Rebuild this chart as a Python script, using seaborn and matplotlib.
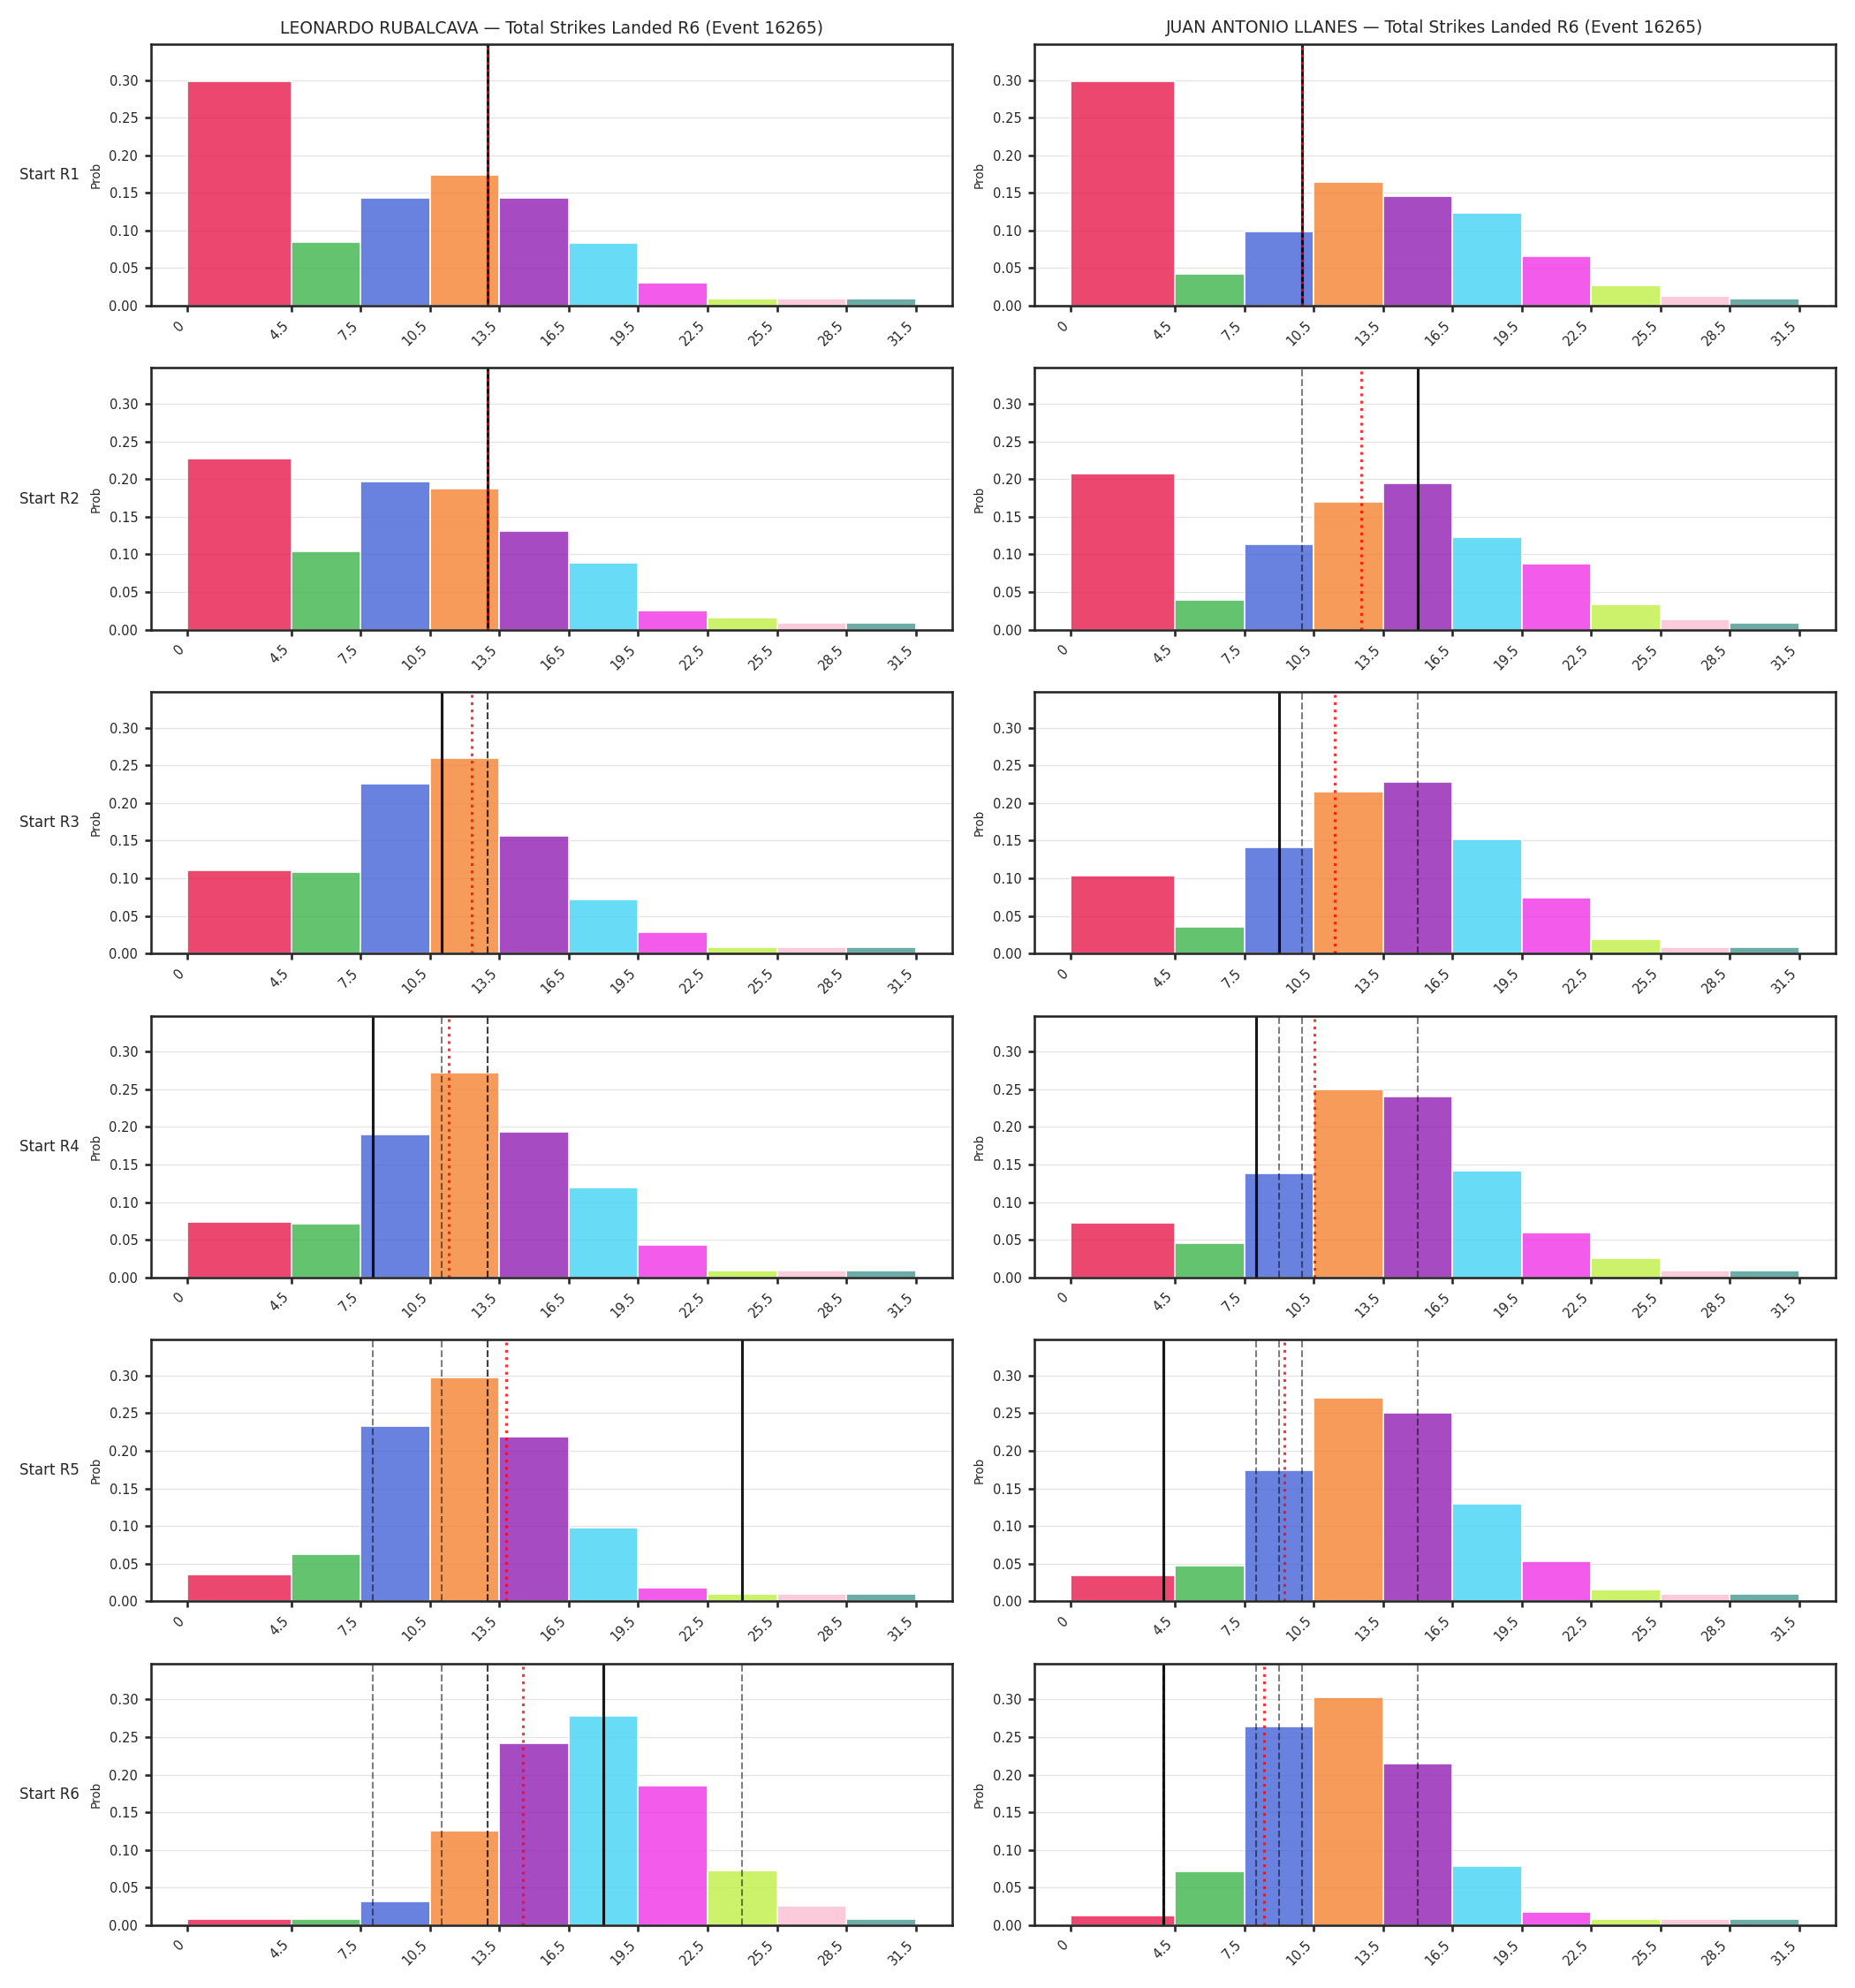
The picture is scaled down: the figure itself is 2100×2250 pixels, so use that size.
import numpy as np
import matplotlib
matplotlib.use("Agg")
import matplotlib.pyplot as plt
from matplotlib.colors import to_rgba
import seaborn as sns

# ---------------- data ----------------
fighters = ["LEONARDO RUBALCAVA", "JUAN ANTONIO LLANES"]
title_suffix = "Total Strikes Landed R6 (Event 16265)"
row_labels = ["Start R1", "Start R2", "Start R3", "Start R4", "Start R5", "Start R6"]

bin_edges = [0, 4.5, 7.5, 10.5, 13.5, 16.5, 19.5, 22.5, 25.5, 28.5, 31.5]
tick_labels = ["0", "4.5", "7.5", "10.5", "13.5", "16.5", "19.5", "22.5", "25.5", "28.5", "31.5"]
bar_colors = ["#e6194B", "#3cb44b", "#4363d8", "#f58231", "#911eb4",
              "#42d4f4", "#f032e6", "#bfef45", "#fabed4", "#469990"]

rubalcava_probs = [
    [0.299, 0.085, 0.143, 0.174, 0.144, 0.084, 0.030, 0.009, 0.009, 0.009],
    [0.227, 0.104, 0.197, 0.187, 0.131, 0.089, 0.025, 0.016, 0.009, 0.009],
    [0.110, 0.108, 0.226, 0.260, 0.156, 0.072, 0.028, 0.008, 0.008, 0.008],
    [0.074, 0.071, 0.190, 0.272, 0.193, 0.119, 0.043, 0.009, 0.009, 0.009],
    [0.036, 0.062, 0.233, 0.297, 0.219, 0.098, 0.018, 0.009, 0.009, 0.009],
    [0.008, 0.008, 0.031, 0.125, 0.242, 0.278, 0.185, 0.072, 0.026, 0.008],
]
llanes_probs = [
    [0.298, 0.042, 0.099, 0.164, 0.146, 0.124, 0.066, 0.027, 0.013, 0.009],
    [0.208, 0.039, 0.114, 0.170, 0.194, 0.123, 0.088, 0.034, 0.013, 0.009],
    [0.104, 0.035, 0.141, 0.215, 0.228, 0.152, 0.074, 0.019, 0.008, 0.008],
    [0.073, 0.045, 0.138, 0.250, 0.240, 0.142, 0.059, 0.025, 0.009, 0.009],
    [0.034, 0.047, 0.174, 0.271, 0.251, 0.129, 0.053, 0.015, 0.009, 0.009],
    [0.012, 0.071, 0.264, 0.303, 0.215, 0.078, 0.017, 0.008, 0.008, 0.008],
]

rubalcava_actual = [13, 13, 11, 8, 24, 18]
rubalcava_mean = [13.0, 13.0, 12.3, 11.3, 13.8, 14.5]
llanes_actual = [10, 15, 9, 8, 4, 4]
llanes_mean = [10.0, 12.55, 11.4, 10.55, 9.25, 8.35]

all_probs = [rubalcava_probs, llanes_probs]
all_actual = [rubalcava_actual, llanes_actual]
all_mean = [rubalcava_mean, llanes_mean]

# ---------------- style ----------------
sns.set_style("ticks")
plt.rcParams["font.family"] = ["DejaVu Sans"]

fig, axes = plt.subplots(6, 2, figsize=(14, 15), dpi=150)
fig.subplots_adjust(left=0.0814, right=0.9895, top=0.9778, bottom=0.0317,
                    wspace=0.103, hspace=0.238)

edges = np.array(bin_edges)
mids = (edges[:-1] + edges[1:]) / 2

for c in range(2):
    for r in range(6):
        ax = axes[r, c]
        sns.histplot(x=mids, weights=all_probs[c][r], bins=bin_edges, stat="count",
                     edgecolor="white", linewidth=0.8, ax=ax)
        for patch, col in zip(ax.patches, bar_colors):
            patch.set_alpha(None)
            patch.set_facecolor(to_rgba(col, 0.8))
            patch.set_edgecolor("white")
        # previous rounds' actual values
        for prev in all_actual[c][:r]:
            ax.axvline(prev, color="black", alpha=0.5, lw=1.0, ls="--")
        ax.axvline(all_actual[c][r], color="black", lw=1.5, alpha=0.9)
        ax.axvline(all_mean[c][r], color="red", lw=1.5, ls=":", alpha=0.8)

        ax.set_ylim(0, 0.348)
        ax.set_yticks([0.0, 0.05, 0.10, 0.15, 0.20, 0.25, 0.30])
        ax.set_xticks(bin_edges)
        ax.set_xticklabels(tick_labels, rotation=45, ha="right")
        ax.tick_params(axis="both", labelsize=7, width=1.25, color=".15")
        for sp in ax.spines.values():
            sp.set_linewidth(1.25)
            sp.set_color(".15")
        ax.grid(axis="y", color="#e3e3e3", lw=0.6)
        ax.set_axisbelow(True)
        ax.set_ylabel("Prob", fontsize=6.5)
        ax.set_xlabel("")
        if r == 0:
            ax.set_title(f"{fighters[c]} \u2014 {title_suffix}", fontsize=9)
        if c == 0:
            ax.text(-0.089, 0.5, row_labels[r], transform=ax.transAxes,
                    ha="right", va="center", fontsize=8)

fig.savefig("out.png", dpi=150)
